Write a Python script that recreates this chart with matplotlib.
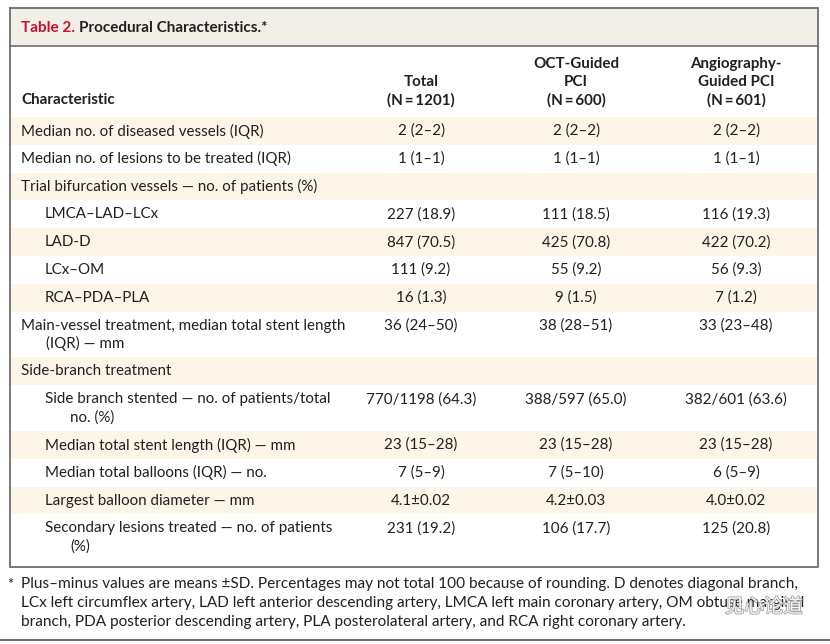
import matplotlib
matplotlib.use("Agg")
import matplotlib.pyplot as plt
import matplotlib.patheffects as pe

# ---- table content ----
title_num = "Table 2."
title_txt = "Procedural Characteristics.*"

col_heads = [
    ["Total", "(N\u2009=\u20091201)"],
    ["OCT-Guided", "PCI", "(N\u2009=\u2009600)"],
    ["Angiography-", "Guided PCI", "(N\u2009=\u2009601)"],
]

# label lines, indent level
row_labels = [
    ["Median no. of diseased vessels (IQR)"],
    ["Median no. of lesions to be treated (IQR)"],
    ["Trial bifurcation vessels \u2014 no. of patients (%)"],
    ["LMCA\u2013LAD\u2013LCx"],
    ["LAD-D"],
    ["LCx\u2013OM"],
    ["RCA\u2013PDA\u2013PLA"],
    ["Main-vessel treatment, median total stent length", "(IQR) \u2014 mm"],
    ["Side-branch treatment"],
    ["Side branch stented \u2014 no. of patients/total", "no. (%)"],
    ["Median total stent length (IQR) \u2014 mm"],
    ["Median total balloons (IQR) \u2014 no."],
    ["Largest balloon diameter \u2014 mm"],
    ["Secondary lesions treated \u2014 no. of patients", "(%)"],
]
row_indent = [0, 0, 0, 1, 1, 1, 1, 0, 0, 1, 1, 1, 1, 1]

total_vals = ["2 (2\u20132)", "1 (1\u20131)", "", "227 (18.9)", "847 (70.5)",
              "111 (9.2)", "16 (1.3)", "36 (24\u201350)", "", "770/1198 (64.3)",
              "23 (15\u201328)", "7 (5\u20139)", "4.1\u00b10.02", "231 (19.2)"]
oct_vals = ["2 (2\u20132)", "1 (1\u20131)", "", "111 (18.5)", "425 (70.8)",
            "55 (9.2)", "9 (1.5)", "38 (28\u201351)", "", "388/597 (65.0)",
            "23 (15\u201328)", "7 (5\u201310)", "4.2\u00b10.03", "106 (17.7)"]
angio_vals = ["2 (2\u20132)", "1 (1\u20131)", "", "116 (19.3)", "422 (70.2)",
              "56 (9.3)", "7 (1.2)", "33 (23\u201348)", "", "382/601 (63.6)",
              "23 (15\u201328)", "6 (5\u20139)", "4.0\u00b10.02", "125 (20.8)"]

footnote = [
    "Plus\u2013minus values are means \u00b1SD. Percentages may not total 100 because of rounding. D denotes diagonal branch,",
    "LCx left circumflex artery, LAD left anterior descending artery, LMCA left main coronary artery, OM obtuse marginal",
    "branch, PDA posterior descending artery, PLA posterolateral artery, and RCA right coronary artery.",
]

# ---- style ----
INK = "#231f20"
RED = "#c8102e"
BAND = "#fdf5e8"
TITLE_BG = "#f2efe9"
BORDER = "#6d6e70"
FONT = ["Lato", "DejaVu Sans"]
NARROW = ["Liberation Sans Narrow", "Lato", "DejaVu Sans"]
FS = 10.9

fig = plt.figure(figsize=(8.3, 6.44), dpi=100)
ax = fig.add_axes([0, 0, 1, 1])
ax.set_xlim(0, 830)
ax.set_ylim(644, 0)
ax.axis("off")

LEFT, RIGHT, TOP, BOTTOM = 10, 818, 8, 567
TITLE_H = 38
col_x = [421, 576, 736]

# title band
ax.add_patch(plt.Rectangle((LEFT, TOP), RIGHT - LEFT, TITLE_H, facecolor=TITLE_BG,
                           edgecolor="none", zorder=0))
ax.plot([LEFT, RIGHT], [TOP + TITLE_H, TOP + TITLE_H], color=BORDER, lw=1.2)
t1 = ax.text(21, TOP + TITLE_H / 2 + 1, title_num, color=RED, fontsize=11,
             fontweight="bold", family=FONT, va="center", ha="left")
fig.canvas.draw()
bb = t1.get_window_extent()
ax.text(21 + bb.width + 4, TOP + TITLE_H / 2 + 1, title_txt, color=INK,
        fontsize=11, fontweight="bold", family=FONT, va="center", ha="left")

# headers
LINE = 18
HEAD_BASE = 100
ax.text(21, HEAD_BASE, "Characteristic", color=INK, fontsize=FS, fontweight="bold",
        family=FONT, va="center", ha="left")
for x, lines in zip(col_x, col_heads):
    n = len(lines)
    for i, s in enumerate(lines):
        ax.text(x, HEAD_BASE - (n - 1 - i) * LINE, s, color=INK, fontsize=FS,
                fontweight="bold", family=FONT, va="center", ha="center")

# body rows
y = 117
ROW_H = 27.8
for k, lines in enumerate(row_labels):
    h = ROW_H if len(lines) == 1 else ROW_H + LINE
    if k % 2 == 0:
        ax.add_patch(plt.Rectangle((LEFT, y), RIGHT - LEFT, h, facecolor=BAND,
                                   edgecolor="none", zorder=0))
    ty = y + 14
    x0 = 21 + 24 * row_indent[k]
    for i, s in enumerate(lines):
        ax.text(x0 + (25 if i > 0 else 0), ty + i * LINE, s, color=INK, fontsize=FS,
                family=FONT, va="center", ha="left")
    for x, vals in zip(col_x, (total_vals, oct_vals, angio_vals)):
        ax.text(x, ty, vals[k], color=INK, fontsize=FS, family=FONT,
                va="center", ha="center")
    y += h

# outer frame
ax.plot([LEFT, LEFT, RIGHT, RIGHT, LEFT], [TOP, BOTTOM, BOTTOM, TOP, TOP],
        color=BORDER, lw=1.3, solid_joinstyle="miter")

# footnote
ax.text(7, 585, "*", color=INK, fontsize=10.5, family=NARROW, va="center", ha="left")
for i, s in enumerate(footnote):
    ax.text(21, 584 + i * 19, s, color=INK, fontsize=11.1, family=NARROW,
            va="center", ha="left")
ax.plot([0, 830], [640, 640], color=BORDER, lw=1.5)

# watermark
ax.text(725, 607, "\u89c1\u5fc3\u8bba\u9053", fontsize=14, color="white",
        family=["Noto Sans CJK SC", "DejaVu Sans"], va="center", ha="left",
        path_effects=[pe.withStroke(linewidth=1.2, foreground="#9a9a9a")], alpha=0.9)

fig.savefig("out.png", dpi=100, facecolor="white")
